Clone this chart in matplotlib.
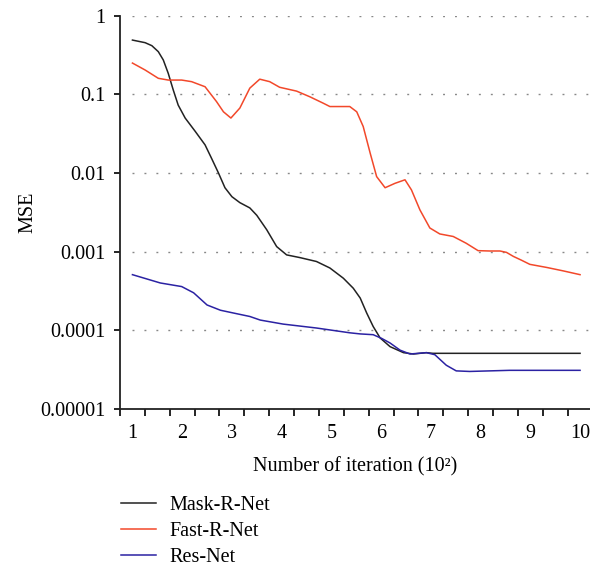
import matplotlib.pyplot as plt
import numpy as np

plt.rcParams['font.family'] = ['Liberation Serif', 'DejaVu Serif']

# MSE per iteration count (x in units of 10^2 iterations)
mask_x = [1.0, 1.255, 1.39, 1.52, 1.62, 1.72, 1.82, 1.92, 2.06, 2.26, 2.46, 2.59, 2.73, 2.86,
          3.0, 3.16, 3.36, 3.50, 3.70, 3.90, 4.10, 4.37, 4.70, 4.97, 5.24, 5.44, 5.58, 5.71,
          5.84, 5.98, 6.18, 6.45, 6.65, 6.91, 7.04, 10.0]
mask_y = [0.49, 0.454, 0.416, 0.349, 0.274, 0.185, 0.114, 0.073, 0.050, 0.034, 0.0228, 0.0154,
          0.0100, 0.0065, 0.0050, 0.0042, 0.0036, 0.0029, 0.0019, 0.00116, 0.00091, 0.00084,
          0.00075, 0.00062, 0.00046, 0.000343, 0.000257, 0.000166, 0.000112, 0.000080,
          0.000062, 0.000052, 0.000050, 0.000052, 0.000051, 0.000051]

fast_x = [1.0, 1.255, 1.52, 1.72, 1.99, 2.19, 2.46, 2.69, 2.83, 2.98, 3.16, 3.36, 3.56, 3.76,
          3.96, 4.30, 4.57, 4.84, 4.97, 5.17, 5.37, 5.51, 5.64, 5.78, 5.91, 6.08, 6.28, 6.48,
          6.61, 6.78, 6.98, 7.18, 7.45, 7.71, 7.95, 8.18, 8.39, 8.52, 8.66, 8.82, 8.99, 9.33,
          9.66, 10.0]
fast_y = [0.25, 0.204, 0.160, 0.152, 0.152, 0.145, 0.125, 0.081, 0.060, 0.050, 0.067, 0.120,
          0.156, 0.145, 0.123, 0.110, 0.093, 0.077, 0.070, 0.070, 0.070, 0.060, 0.039, 0.0179,
          0.0090, 0.0065, 0.0074, 0.0082, 0.0061, 0.0034, 0.0020, 0.00168, 0.00156, 0.00128,
          0.00103, 0.00102, 0.00102, 0.00098, 0.00087, 0.00078, 0.00069, 0.00063, 0.00057,
          0.00051]

res_x = [1.0, 1.56, 1.99, 2.23, 2.50, 2.77, 3.03, 3.36, 3.57, 4.03, 4.70, 5.37, 5.58, 5.84,
         6.01, 6.18, 6.38, 6.58, 6.91, 7.08, 7.31, 7.51, 7.78, 8.58, 10.0]
res_y = [0.00051, 0.00040, 0.00036, 0.00030, 0.00021, 0.00018, 0.000166, 0.000150, 0.000135,
         0.000120, 0.000107, 0.000093, 0.000090, 0.000088, 0.000079, 0.000069, 0.000056,
         0.000050, 0.000052, 0.000049, 0.000036, 0.0000305, 0.000030, 0.000031, 0.000031]

x_ticks = list(range(1, 11))
y_ticks = [1, 0.1, 0.01, 0.001, 0.0001, 0.00001]
y_labels = ['1', '0.1', '0.01', '0.001', '0.0001', '0.00001']

fig = plt.figure(figsize=(5.9, 5.67), dpi=100)
ax = fig.add_axes([0.2034, 0.2787, 0.7966, 0.6936])

ax.plot(mask_x, mask_y, color='#222222', lw=1.1, label='Mask-R-Net')
ax.plot(fast_x, fast_y, color='#f2482a', lw=1.1, label='Fast-R-Net')
ax.plot(res_x, res_y, color='#2b22a3', lw=1.1, label='Res-Net')

ax.set_yscale('log')
ax.set_ylim(1e-5, 1)
ax.set_xlim(0.75, 10.2)

# dotted reference lines at each decade
ax.hlines(y_ticks[:-1], 1, 10.2, colors='#888888', linestyles=(0, (1.4, 7.2)), lw=1.0, zorder=0)

ax.set_yticks(y_ticks)
ax.set_yticklabels(y_labels)
ax.yaxis.set_minor_locator(plt.NullLocator())
ax.tick_params(axis='y', which='major', direction='out', length=4.5, width=1.2, pad=6, labelsize=14.5)

ax.set_xticks(x_ticks)
ax.set_xticks(np.arange(0.75, 10.0, 0.5), minor=True)
ax.tick_params(axis='x', which='major', length=0, pad=11, labelsize=14.5)
ax.tick_params(axis='x', which='minor', direction='out', length=5, width=1.2)

for side in ['top', 'right']:
    ax.spines[side].set_visible(False)
for side in ['left', 'bottom']:
    ax.spines[side].set_linewidth(1.3)
    ax.spines[side].set_color('#222222')

ax.set_xlabel('Number of iteration (10²)', fontsize=14.5, labelpad=10)
ax.set_ylabel('MSE', fontsize=14.5)
ax.yaxis.set_label_coords(-0.175, 0.5)

fig.legend(loc='upper left', bbox_to_anchor=(0.205, 0.126), frameon=False, fontsize=14.5,
           handlelength=1.75, handletextpad=0.65, labelspacing=0.35, borderaxespad=0,
           borderpad=0)

fig.savefig('out.png', dpi=100)
